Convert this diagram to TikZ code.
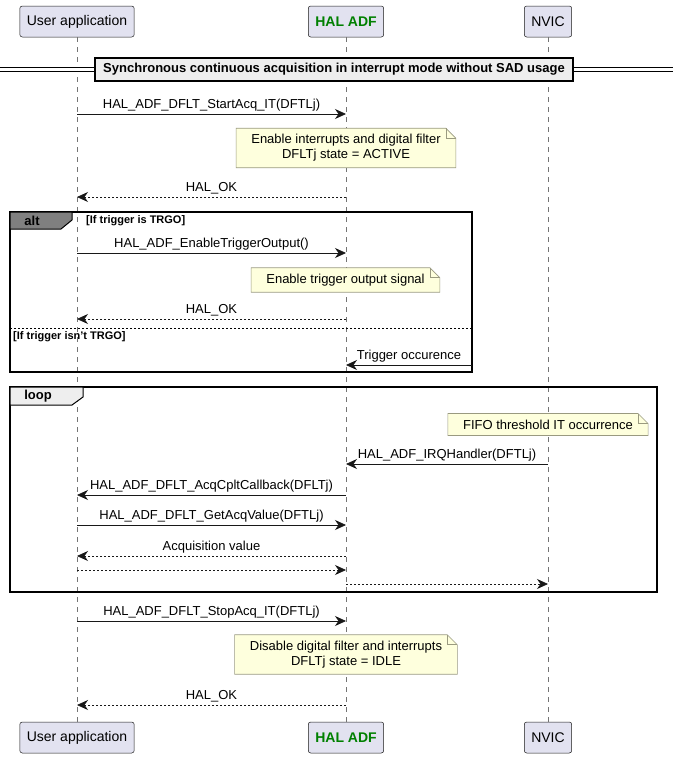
\documentclass[tikz,border=0pt]{standalone}
\usepackage{fontspec}
\setmainfont{Liberation Sans}
\usetikzlibrary{arrows.meta,calc}

\definecolor{partfill}{HTML}{E2E2F0}
\definecolor{partline}{HTML}{181818}
\definecolor{notefill}{HTML}{FEFFDD}
\definecolor{noteline}{HTML}{9A9A80}
\definecolor{grpfill}{HTML}{EEEEEE}
\definecolor{altfill}{HTML}{808080}
\definecolor{halgreen}{HTML}{008000}

\tikzset{
  party/.style={draw=partline, fill=partfill, rounded corners=2.5pt, line width=0.5pt,
    minimum height=31pt, inner xsep=7pt, font=\fontsize{14}{16}\selectfont},
  life/.style={draw=partline!60, dash pattern=on 5pt off 5pt, line width=0.5pt},
  msg/.style={-{Stealth[length=11pt,width=10pt,inset=3.5pt]}, line width=0.8pt, draw=partline},
  reply/.style={msg, dash pattern=on 2pt off 2pt},
  msglabel/.style={above=1.5pt, inner sep=1pt, font=\fontsize{13}{15}\selectfont},
  notetext/.style={fill=notefill, align=center, inner xsep=15pt, inner ysep=6pt,
    font=\fontsize{13}{15}\selectfont},
  frame/.style={draw=black, line width=1.5pt},
  tab/.style={draw=black, line width=1pt},
  cond/.style={font=\bfseries\fontsize{11}{13}\selectfont, inner sep=0pt},
}

% outline of a note, with its folded corner
\newcommand{\notefold}[1]{%
  \fill[white] ($(#1.north east)+(-10pt,0)$) -- (#1.north east) -- ($(#1.north east)+(0,-10pt)$) -- cycle;
  \draw[noteline, line width=0.6pt] (#1.north west) -- ($(#1.north east)+(-10pt,0)$)
    -- ($(#1.north east)+(0,-10pt)$) -- (#1.south east) -- (#1.south west) -- cycle;
  \draw[noteline, line width=0.6pt] ($(#1.north east)+(-10pt,0)$) -- ($(#1.north east)+(-10pt,-10pt)$)
    -- ($(#1.north east)+(0,-10pt)$);
}

\begin{document}
\begin{tikzpicture}[x=1pt, y=-1pt]
\useasboundingbox (0,0) rectangle (673,758);

% participants
\node[party] (ua) at (77,21.5) {User application};
\node[party, text=halgreen, font=\bfseries\fontsize{14}{16}\selectfont] (hal) at (346,21.5) {HAL ADF};
\node[party] (nv) at (548,21.5) {NVIC};
\node[party] (uab) at (77,737.5) {User application};
\node[party, text=halgreen, font=\bfseries\fontsize{14}{16}\selectfont] (halb) at (346,737.5) {HAL ADF};
\node[party] (nvb) at (548,737.5) {NVIC};

% lifelines
\draw[life] (ua.south) -- (uab.north);
\draw[life] (hal.south) -- (halb.north);
\draw[life] (nv.south) -- (nvb.north);

% one point on each lifeline per message
\foreach \n/\y in {start/114, ok1/197, trg/253, ok2/319, ext/365, irq/464, cb/495,
                   get/525, val/556, back/570, fwd/584, stop/621, ok3/705} {
  \coordinate (ua-\n) at (77,\y);
  \coordinate (hal-\n) at (346,\y);
  \coordinate (nv-\n) at (548,\y);
}

% section divider
\draw[draw=black, line width=0.8pt, double=white, double distance=2.5pt] (0,69.5) -- (673,69.5);
\node[draw=black, line width=1.5pt, fill=grpfill, minimum width=478pt, minimum height=23pt, inner sep=0pt,
  font=\bfseries\fontsize{13}{15}\selectfont] (sect) at (334,69.5)
  {Synchronous continuous acquisition in interrupt mode without SAD usage};

% start
\draw[msg] (ua-start) -- (hal-start) node[msglabel, midway] {HAL\_ADF\_DFLT\_StartAcq\_IT(DFTLj)};
\node[notetext] (n1) at (346,148) {Enable interrupts and digital filter\\DFLTj state = ACTIVE};
\notefold{n1}
\draw[reply] (hal-ok1) -- (ua-ok1) node[msglabel, midway] {HAL\_OK};

% alt frame
\coordinate (altnw) at (10,212);
\coordinate (altse) at (472,372);
\draw[frame] (altnw) rectangle (altse);
\filldraw[tab, fill=altfill] (altnw) -- ++(62,0) -- ++(0,8) -- ++(-11,9) -- ++(-51,0) -- cycle;
\node[font=\bfseries\fontsize{13}{15}\selectfont, inner sep=0pt] (altlbl) at (32,220.5) {alt};
\node[cond, anchor=west] (c1) at (86,220.5) {[If trigger is TRGO]};

\draw[msg] (ua-trg) -- (hal-trg) node[msglabel, midway] {HAL\_ADF\_EnableTriggerOutput()};
\node[notetext] (n2) at (345.5,280) {Enable trigger output signal};
\notefold{n2}
\draw[reply] (hal-ok2) -- (ua-ok2) node[msglabel, midway] {HAL\_OK};

\draw[line width=0.6pt, dash pattern=on 2pt off 2pt] (altnw |- 0,328) -- (altse |- 0,328);
\node[cond, anchor=west] (c2) at (13,336.5) {[If trigger isn't TRGO]};
\coordinate (alt-ext) at (altse |- hal-ext);
\draw[msg] (alt-ext) -- (hal-ext) node[msglabel, midway] {Trigger occurence};

% loop frame
\coordinate (loopnw) at (10,387);
\coordinate (loopse) at (657,592);
\draw[frame] (loopnw) rectangle (loopse);
\filldraw[tab, fill=grpfill] (loopnw) -- ++(73,0) -- ++(0,10) -- ++(-11,8) -- ++(-62,0) -- cycle;
\node[font=\bfseries\fontsize{13}{15}\selectfont, inner sep=0pt] (looplbl) at (38,396) {loop};

\node[notetext] (n3) at (548,424.5) {FIFO threshold IT occurrence};
\notefold{n3}
\draw[msg] (nv-irq) -- (hal-irq) node[msglabel, midway] {HAL\_ADF\_IRQHandler(DFTLj)};
\draw[msg] (hal-cb) -- (ua-cb) node[msglabel, midway] {HAL\_ADF\_DFLT\_AcqCpltCallback(DFLTj)};
\draw[msg] (ua-get) -- (hal-get) node[msglabel, midway] {HAL\_ADF\_DFLT\_GetAcqValue(DFTLj)};
\draw[reply] (hal-val) -- (ua-val) node[msglabel, midway] {Acquisition value};
\draw[reply] (ua-back) -- (hal-back);
\draw[reply] (hal-fwd) -- (nv-fwd);

% stop
\draw[msg] (ua-stop) -- (hal-stop) node[msglabel, midway] {HAL\_ADF\_DFLT\_StopAcq\_IT(DFTLj)};
\node[notetext] (n4) at (346,654.5) {Disable digital filter and interrupts\\DFLTj state = IDLE};
\notefold{n4}
\draw[reply] (hal-ok3) -- (ua-ok3) node[msglabel, midway] {HAL\_OK};
\end{tikzpicture}
\end{document}
